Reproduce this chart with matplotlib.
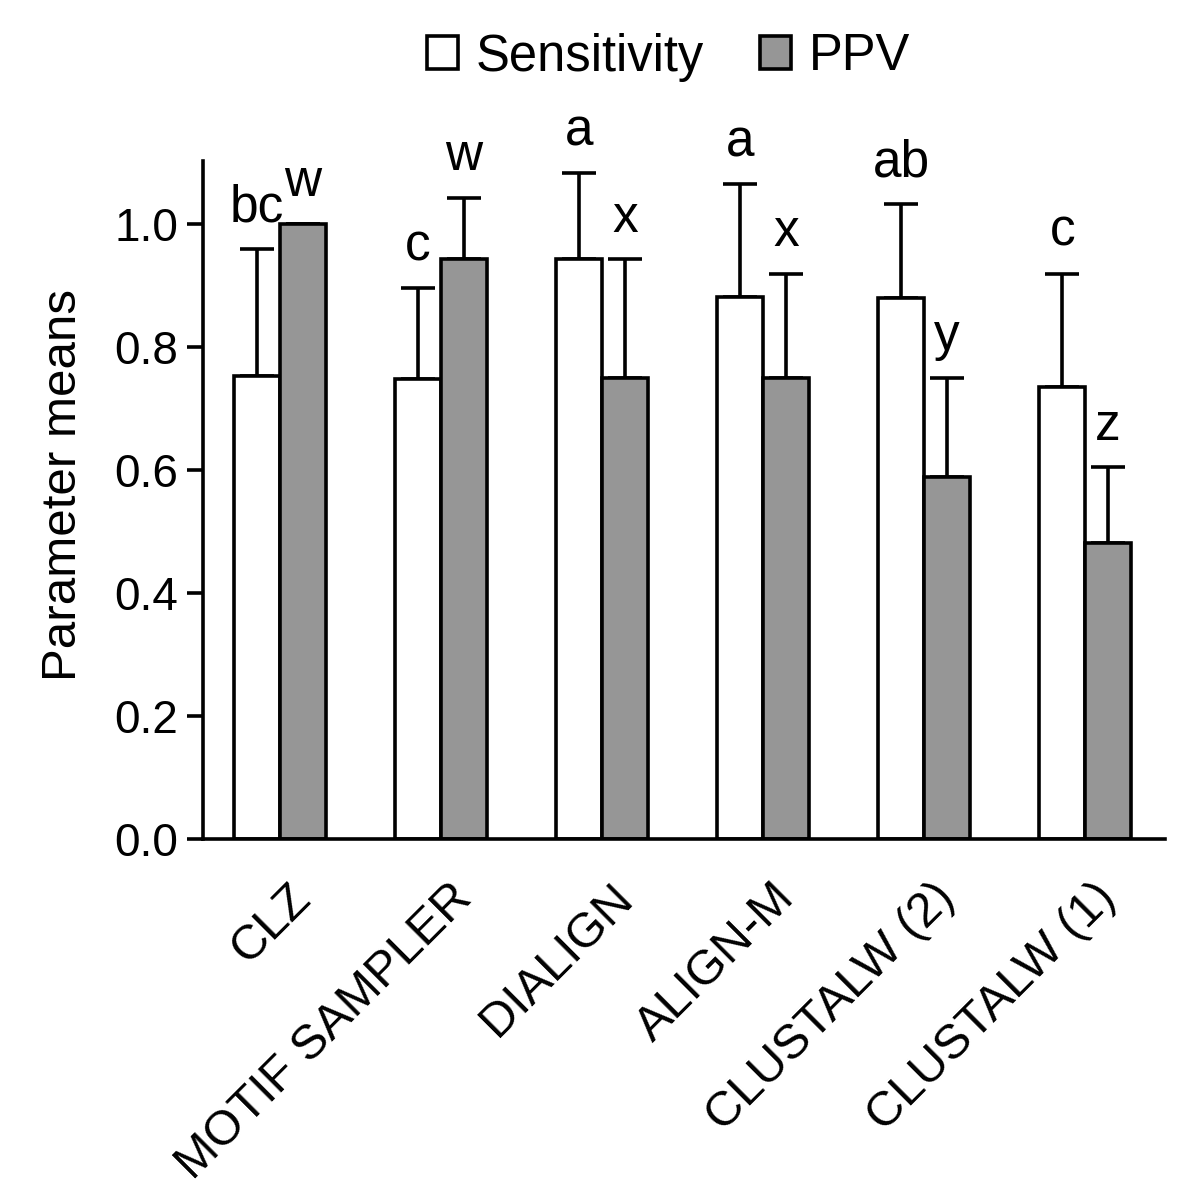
import matplotlib
matplotlib.use("Agg")
import matplotlib.pyplot as plt
import matplotlib.transforms as mtrans
import numpy as np

plt.rcParams['font.family'] = ['Liberation Sans', 'DejaVu Sans']
plt.rcParams['font.size'] = 33

methods = ["CLZ", "MOTIF SAMPLER", "DIALIGN", "ALIGN-M", "CLUSTALW (2)", "CLUSTALW (1)"]
sens = [0.752, 0.747, 0.943, 0.881, 0.880, 0.734]
sens_top = [0.959, 0.896, 1.083, 1.065, 1.032, 0.919]
ppv = [1.0, 0.943, 0.750, 0.750, 0.588, 0.481]
ppv_top = [1.0, 1.042, 0.942, 0.919, 0.750, 0.604]
sens_letters = ["bc", "c", "a", "a", "ab", "c"]
ppv_letters = ["w", "w", "x", "x", "y", "z"]

sens = np.array(sens)
ppv = np.array(ppv)
sens_err = np.array(sens_top) - sens
ppv_err = np.array(ppv_top) - ppv

x = np.arange(len(methods))
w = 0.285
lw = 2.6

fig = plt.figure(figsize=(12, 12), dpi=100)
ax = fig.add_axes([0.169, 0.3008, 0.802, 0.565])

ax.errorbar(x - w/2, sens, yerr=[np.zeros_like(sens), sens_err], fmt='none',
            ecolor='black', elinewidth=lw, capsize=12, capthick=lw, zorder=1)
ax.errorbar(x + w/2, ppv, yerr=[np.zeros_like(ppv), ppv_err], fmt='none',
            ecolor='black', elinewidth=lw, capsize=12, capthick=lw, zorder=1)
ax.bar(x - w/2, sens, w, color='white', edgecolor='black', linewidth=lw,
       label='Sensitivity', zorder=2)
ax.bar(x + w/2, ppv, w, color='#969696', edgecolor='black', linewidth=lw,
       label='PPV', zorder=2)

for i in range(len(methods)):
    ax.text(x[i] - w/2, sens_top[i] + 0.045, sens_letters[i], ha='center',
            va='baseline', fontsize=37)
    ax.text(x[i] + w/2, ppv_top[i] + 0.045, ppv_letters[i], ha='center',
            va='baseline', fontsize=37)

ax.set_xlim(-0.478, 5.497)
ax.set_ylim(0, 1.102)
ax.set_yticks([0.0, 0.2, 0.4, 0.6, 0.8, 1.0])
ax.set_yticklabels(["0.0", "0.2", "0.4", "0.6", "0.8", "1.0"])
ax.set_xticks(x)
ax.set_xticklabels(methods, rotation=45, ha='right', rotation_mode='anchor',
                   fontsize=35)
ax.tick_params(axis='x', length=0, pad=26)
ax.tick_params(axis='y', length=11.5, width=lw, direction='out', pad=6)
# nudge the rotated labels a little to the right
shift = mtrans.ScaledTranslation(8/100, 0, fig.dpi_scale_trans)
for lab in ax.get_xticklabels():
    lab.set_transform(lab.get_transform() + shift)
ax.set_ylabel("Parameter means", fontsize=35.5)
ax.yaxis.set_label_coords(-0.121, 0.522)

for s in ['top', 'right']:
    ax.spines[s].set_visible(False)
for s in ['left', 'bottom']:
    ax.spines[s].set_linewidth(lw)

fig.legend(loc='center', bbox_to_anchor=(0.557, 0.9525), ncol=2, frameon=False,
           handlelength=0.62, handleheight=0.62, handletextpad=0.35,
           columnspacing=1.1, fontsize=36.5)

fig.savefig("out.png", dpi=100)
